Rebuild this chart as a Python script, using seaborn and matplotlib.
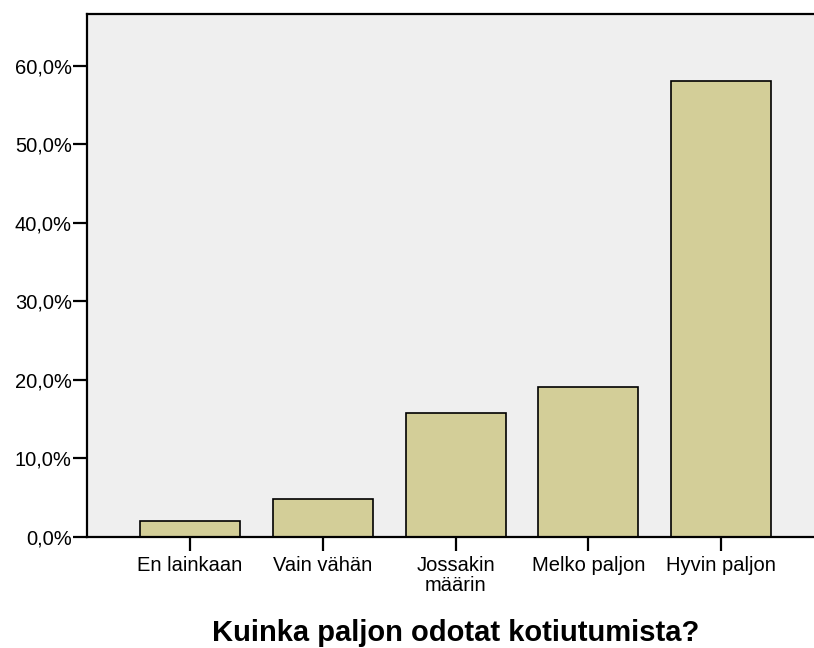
import matplotlib
matplotlib.use("Agg")
import matplotlib.pyplot as plt
import seaborn as sns
import pandas as pd

categories = ["En lainkaan", "Vain vähän", "Jossakin\nmäärin", "Melko paljon", "Hyvin paljon"]
percent = [2.0, 4.8, 15.8, 19.1, 58.1]
ytick_values = [0, 10, 20, 30, 40, 50, 60]
ytick_labels = ["0,0%", "10,0%", "20,0%", "30,0%", "40,0%", "50,0%", "60,0%"]
xlabel = "Kuinka paljon odotat kotiutumista?"

df = pd.DataFrame({"cat": categories, "pct": percent})

sns.set_theme(style="white")
plt.rcParams["font.family"] = ["Liberation Sans", "DejaVu Sans"]
plt.rcParams["text.color"] = "black"
plt.rcParams["axes.labelcolor"] = "black"

W, H = 814, 648
fig = plt.figure(figsize=(W / 100, H / 100), dpi=100)
ax = fig.add_axes([87 / W, (H - 537) / H, (W - 87) / W, (537 - 14) / H])
ax.set_facecolor("#efefef")

sns.barplot(data=df, x="cat", y="pct", color="#d3ce98", saturation=1,
            edgecolor="black", linewidth=1.2, width=0.753, ax=ax)

ax.set_xlim(-0.776, 4.70)
ax.set_ylim(0, 66.6)
ax.set_yticks(ytick_values)
ax.set_yticklabels(ytick_labels, fontsize=14.5)
ax.set_xticks(range(len(categories)))
ax.set_xticklabels(categories, fontsize=14.5, linespacing=1.05)
ax.set_ylabel("")
ax.set_xlabel(xlabel, fontsize=21, fontweight="bold", color="black")
ax.xaxis.set_label_coords((455.5 - 87) / 727, (537 - 619) / 523)

for s in ["left", "top", "bottom"]:
    ax.spines[s].set_visible(True)
    ax.spines[s].set_color("black")
    ax.spines[s].set_linewidth(1.6)
ax.spines["right"].set_visible(False)

ax.tick_params(axis="both", which="major", direction="out", length=10,
               width=1.6, color="black", labelcolor="black", pad=2,
               bottom=True, left=True)
ax.tick_params(axis="x", pad=4)
ax.tick_params(axis="y", pad=1)

fig.savefig("out.png", dpi=100)
